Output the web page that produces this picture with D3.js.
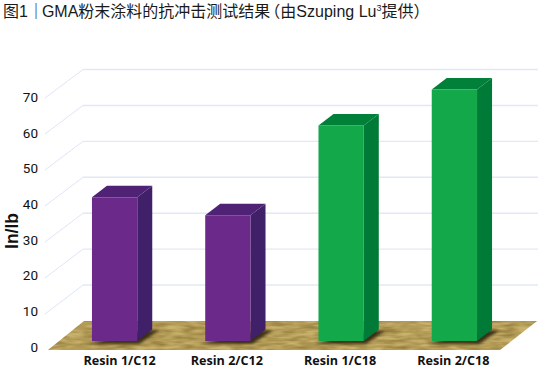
<!DOCTYPE html>
<html>
<head>
<meta charset="utf-8">
<script src="https://cdn.jsdelivr.net/npm/d3@7"></script>
<style>
html, body { margin: 0; padding: 0; background: #fff; }
svg { display: block; }
</style>
</head>
<body>
<div id="chart-container"></div>
<script>
const categories = ["Resin 1/C12", "Resin 2/C12", "Resin 1/C18", "Resin 2/C18"];
const values = [40, 35, 60, 70];
const yTicks = [0, 10, 20, 30, 40, 50, 60, 70];
const faceColors = ["#6b2a8a", "#6b2a8a", "#13a84a", "#13a84a"];
const sideColors = ["#402068", "#402068", "#007a37", "#007a37"];
const topColors = ["#4f2275", "#4f2275", "#008038", "#008038"];

const width = 542, height = 372;

const svg = d3.select("#chart-container")
    .append("svg")
    .attr("width", width)
    .attr("height", height);

// three planes of the fake 3d box: wall at the back, bars in the middle, axis at the front
const yFront = d3.scaleLinear().domain([0, 70]).range([350, 98]);
const yBack = d3.scaleLinear().domain([0, 70]).range([321, 69.5]);
const yBar = d3.scaleLinear().domain([0, 70]).range([341, 89.5]);
// tick labels run on a slightly tighter step than the lines
const yLabels = d3.scaleLinear().domain([0, 70]).range([347, 97]);
const x = d3.scaleBand().domain(categories).range([24, 545]).paddingInner(0.6).paddingOuter(0.6);

const depthX = 15, depthY = 11.5;

const defs = svg.append("defs");

const wood = defs.append("filter").attr("id", "wood")
    .attr("x", 0).attr("y", 0).attr("width", 1).attr("height", 1)
    .attr("color-interpolation-filters", "sRGB");
wood.append("feTurbulence")
    .attr("type", "fractalNoise")
    .attr("baseFrequency", "0.06 0.3")
    .attr("numOctaves", 2)
    .attr("seed", 4)
    .attr("result", "noise");
wood.append("feColorMatrix")
    .attr("in", "noise")
    .attr("type", "matrix")
    .attr("values", "0 0 0 0 0.45  0 0 0 0 0.35  0 0 0 0 0.12  1.0 0 0 0 -0.25")
    .attr("result", "grain");
wood.append("feComposite").attr("in", "grain").attr("in2", "SourceGraphic").attr("operator", "in").attr("result", "clipped");
const woodMerge = wood.append("feMerge");
woodMerge.append("feMergeNode").attr("in", "SourceGraphic");
woodMerge.append("feMergeNode").attr("in", "clipped");

defs.append("filter").attr("id", "soft")
    .attr("x", "-30%").attr("y", "-60%").attr("width", "160%").attr("height", "220%")
    .append("feGaussianBlur").attr("stdDeviation", 1.8);

// gridlines
const grid = svg.append("g").attr("fill", "none");

grid.selectAll(".wall")
    .data(yTicks.slice(1))
    .enter()
    .append("line")
    .attr("class", "wall")
    .attr("x1", 83).attr("x2", 538)
    .attr("y1", d => yBack(d))
    .attr("y2", d => yBack(d))
    .attr("stroke", "#e2e8f5")
    .attr("stroke-width", 1.4);

grid.selectAll(".side")
    .data(yTicks.slice(1))
    .enter()
    .append("line")
    .attr("class", "side")
    .attr("x1", 45).attr("x2", 83)
    .attr("y1", d => yFront(d))
    .attr("y2", d => yBack(d))
    .attr("stroke", "#dde6f6")
    .attr("stroke-width", 1);

// floor
svg.append("polygon")
    .attr("points", [
        [48, yFront(0)], [500, yFront(0)], [537, yBack(0)], [84, yBack(0)]
    ].join(" "))
    .attr("fill", "#c9b26b")
    .attr("filter", "url(#wood)");

// shadows under the bars
svg.selectAll(".shadow")
    .data(categories)
    .enter()
    .append("polygon")
    .attr("class", "shadow")
    .attr("points", d => {
        const l = x(d), r = l + x.bandwidth(), b = yBar(0);
        return [[l - 5, b + 3], [r + 2, b + 3], [r + depthX + 7, b - depthY + 1], [r + 6, b - depthY + 1]].join(" ");
    })
    .attr("fill", "#2e2108")
    .attr("opacity", 0.9)
    .attr("filter", "url(#soft)");

// bars
const bars = svg.selectAll(".bar")
    .data(categories)
    .enter()
    .append("g")
    .attr("class", "bar");

bars.append("polygon")
    .attr("points", (d, i) => {
        const r = x(d) + x.bandwidth();
        return [[r, yBar(values[i])], [r + depthX, yBar(values[i]) - depthY], [r + depthX, yBar(0) - depthY], [r, yBar(0)]].join(" ");
    })
    .attr("fill", (d, i) => sideColors[i]);

bars.append("polygon")
    .attr("points", (d, i) => {
        const l = x(d), r = l + x.bandwidth(), t = yBar(values[i]);
        return [[l, t], [l + depthX, t - depthY], [r + depthX, t - depthY], [r, t]].join(" ");
    })
    .attr("fill", (d, i) => topColors[i]);

bars.append("rect")
    .attr("x", d => x(d))
    .attr("y", (d, i) => yBar(values[i]))
    .attr("width", x.bandwidth())
    .attr("height", (d, i) => yBar(0) - yBar(values[i]))
    .attr("fill", (d, i) => faceColors[i]);

// axes
const yAxis = svg.append("g")
    .attr("transform", "translate(38,0)")
    .call(d3.axisLeft(yLabels).tickValues(yTicks).tickSize(0).tickPadding(0));
yAxis.select(".domain").remove();
yAxis.selectAll("text")
    .attr("font-family", "Roboto, sans-serif")
    .attr("font-size", 13.5)
    .attr("fill", "#111");

const xAxis = svg.append("g")
    .attr("transform", "translate(-1,353)")
    .call(d3.axisBottom(x).tickSize(0).tickPadding(3));
xAxis.select(".domain").remove();
xAxis.selectAll("text")
    .attr("font-family", "'Open Sans', sans-serif")
    .attr("font-weight", 700)
    .attr("font-size", 12.6)
    .attr("fill", "#111");
// first label sits a little right of its bar in the original
xAxis.selectAll("text").filter((d, i) => i === 0).attr("dx", 6);

svg.append("text")
    .attr("transform", "translate(18,231) rotate(-90)")
    .attr("text-anchor", "middle")
    .attr("font-family", "'Liberation Sans', sans-serif")
    .attr("font-weight", 700)
    .attr("font-size", 17.5)
    .attr("fill", "#111")
    .text("In/lb");

// title
const title = svg.append("text")
    .attr("x", 3)
    .attr("y", 17)
    .attr("font-family", "'Liberation Sans', 'Noto Sans CJK SC', sans-serif")
    .attr("font-size", 16)
    .attr("fill", "#1a1a1a");
title.append("tspan").text("图1｜");
title.append("tspan").attr("dx", -2).text("GMA粉末涂料的抗冲击测试结果");
title.append("tspan").attr("dx", -6).text("（由Szuping Lu");
title.append("tspan").attr("font-size", 9).attr("dy", -6).text("3");
title.append("tspan").attr("dy", 6).text("提供）");
</script>
</body>
</html>
